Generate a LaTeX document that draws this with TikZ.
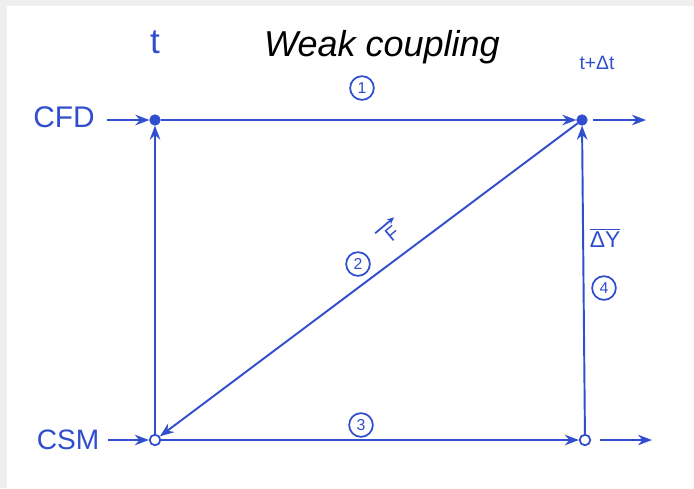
\documentclass[tikz,border=0pt]{standalone}
\usepackage{fontspec}
\setmainfont{Liberation Sans}
\usetikzlibrary{arrows.meta,positioning}
\definecolor{pen}{RGB}{48,78,205}
\definecolor{frame}{RGB}{239,239,239}

\begin{document}
\begin{tikzpicture}[x=0.02cm,y=-0.02cm,
  flow/.style={pen, line width=1.1pt, -{Stealth[length=8pt,width=6pt]}},
  fullnode/.style={circle, draw=pen, fill=pen, inner sep=0pt, minimum size=6pt},
  opennode/.style={circle, draw=pen, line width=1pt, fill=white, inner sep=0pt, minimum size=6pt},
  stepnum/.style={circle, draw=pen, line width=1pt, text=pen, inner sep=0pt, minimum size=13.5pt, font=\fontsize{9}{9}\selectfont},
  hand/.style={text=pen, inner sep=1pt}]
% page and frame
\fill[frame] (0,0) rectangle (694,488);
\fill[white] (7,6) rectangle (694,488);
\useasboundingbox (0,0) rectangle (694,488);

% title
\node (title) at (382,47) {\fontsize{20.5}{22}\selectfont\itshape Weak coupling};

% time levels
\node[hand, font=\fontsize{20}{20}\selectfont] (tnow) at (155,42) {t};
\node[hand, font=\fontsize{11}{11}\selectfont] (tnext) at (597,63) {t+Δt};

% solvers
\node[hand, font=\fontsize{17}{17}\selectfont] (cfd) at (64,117) {CFD};
\node[hand, font=\fontsize{16}{16}\selectfont] (csm) at (68,440) {CSM};

% junctions
\node[fullnode] (cfda) at (155,120) {};
\node[fullnode] (cfdb) at (582,120) {};
\node[opennode] (csma) at (155,440) {};
\node[opennode] (csmb) at (585,440) {};
\coordinate (cfdout) at (646,120);
\coordinate (csmout) at (652,440);

% inputs and outputs
\draw[flow] ([xshift=6pt]cfd.east |- cfda) -- (cfda);
\draw[flow] ([xshift=4pt]csm.east |- csma) -- (csma);
\draw[flow] ([xshift=3pt]cfdb.east) -- (cfdout);
\draw[flow] ([xshift=5pt]csmb.east) -- (csmout);

% coupling steps
\draw[flow] (cfda) -- (cfdb);
\draw[flow] (cfdb) -- (csma);
\draw[flow] (csma) -- (csmb);
\draw[flow] (csmb) -- (cfdb);
\draw[flow] (csma) -- (cfda);

% step numbers
\node[stepnum] (s1) at (362,88) {1};
\node[stepnum] (s2) at (358,264) {2};
\node[stepnum] (s3) at (361,425) {3};
\node[stepnum] (s4) at (604,288) {4};

% exchanged quantities
\node[hand, rotate=40, inner xsep=3.5pt, inner ysep=2.5pt, font=\fontsize{11}{11}\selectfont] (force) at (392,234) {F};
\draw[pen, line width=1pt, -{Stealth[length=4pt,width=3.5pt]}] (force.north west) -- (force.north east);
\node[hand, font=\fontsize{13}{13}\selectfont] (disp) at (605,238) {$\overline{\hbox{ΔY}}$};
\end{tikzpicture}
\end{document}
